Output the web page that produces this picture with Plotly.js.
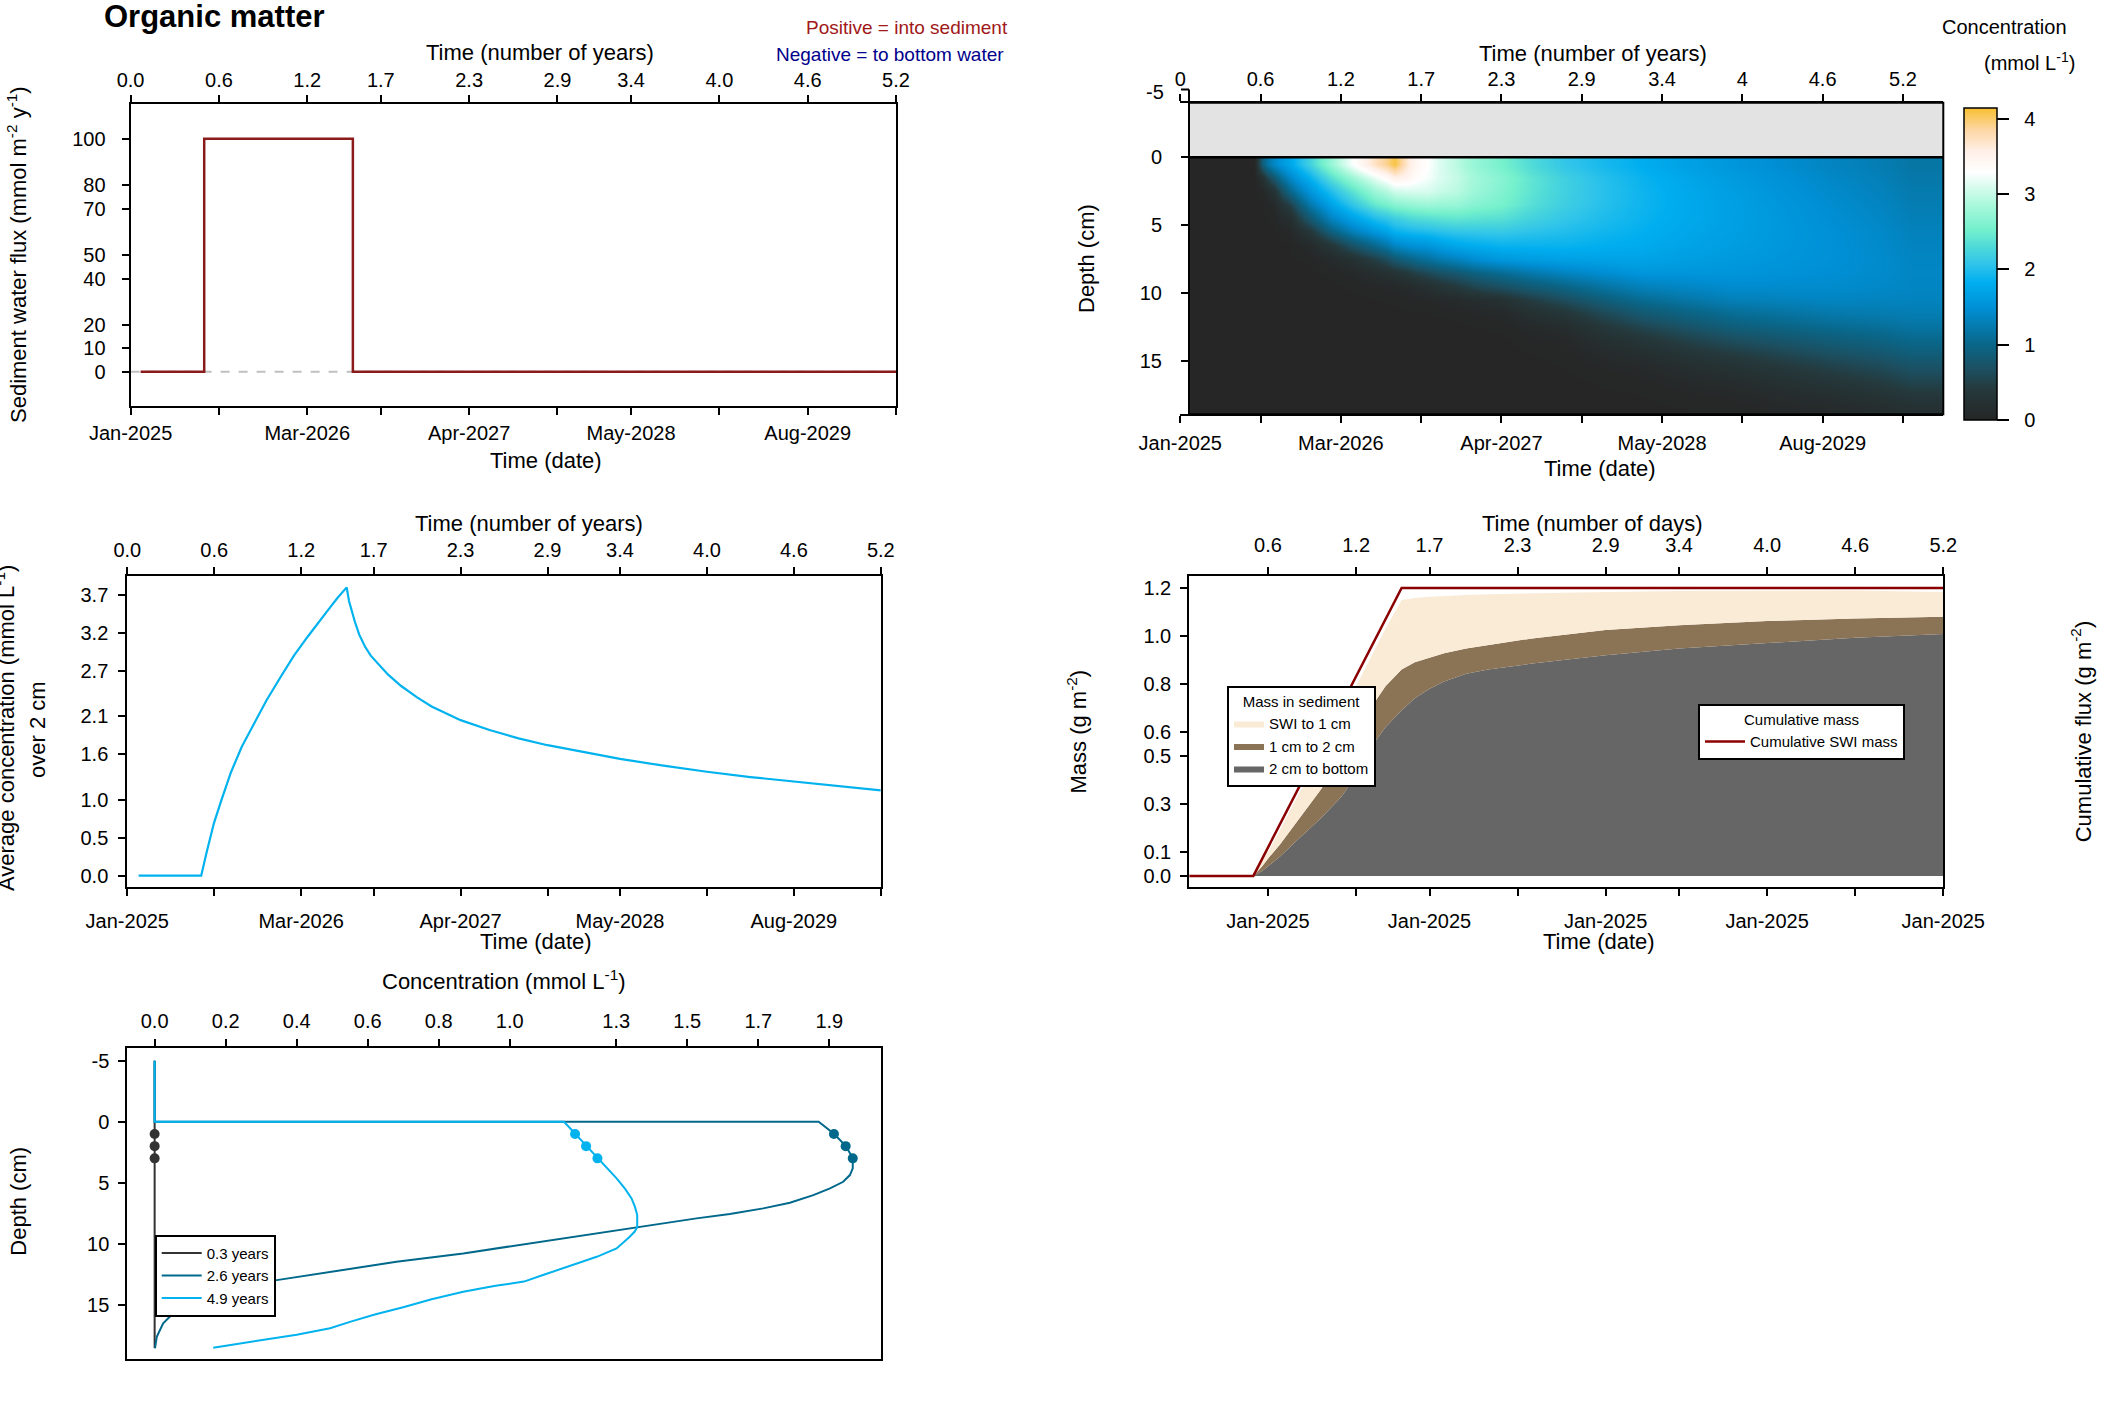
<!DOCTYPE html>
<html><head><meta charset="utf-8">
<script src="https://cdn.plot.ly/plotly-3.0.1.min.js"></script>
<style>html,body{margin:0;padding:0;background:#fff}#chart{width:2125px;height:1417px}</style>
</head><body><div id="chart"></div>
<script>
// ================= DATA =================
const yearTickVals = [0, 0.6, 1.2, 1.7, 2.3, 2.9, 3.4, 4.0, 4.6, 5.2];
const yearTickText = ['0.0','0.6','1.2','1.7','2.3','2.9','3.4','4.0','4.6','5.2'];
const dateTickVals = [0, 1.2, 2.3, 3.4, 4.6];
const dateTickText = ['Jan-2025','Mar-2026','Apr-2027','May-2028','Aug-2029'];
const dateMinorVals = [0.6, 1.7, 2.9, 4.0, 5.2];

// panel 1: sediment water flux (step)
const fluxTime  = [0.068, 0.50, 1.51, 5.2];
const fluxValue = [0, 100, 0, 0];
const zeroLineTime  = [0, 5.2];
const zeroLineValue = [0, 0];
const fluxTicks = [0, 10, 20, 40, 50, 70, 80, 100];

// panel 2: concentration heatmap (time edges in years, depth edges in cm)
const hmTickVals = [0, 0.575, 1.15, 1.725, 2.3, 2.875, 3.45, 4.025, 4.6, 5.175];
const hmTickText = ['0','0.6','1.2','1.7','2.3','2.9','3.4','4','4.6','5.2'];
const hmDateVals = [0, 1.15, 2.3, 3.45, 4.6];
const hmDateText = ['Jan-2025','Mar-2026','Apr-2027','May-2028','Aug-2029'];
const hmDateMinor = [0.575, 1.725, 2.875, 4.025, 5.175];
const hmTimeEdges  = [0.062, 0.5, 0.555, 0.62, 0.72, 0.85, 1.0, 1.16, 1.32, 1.48, 1.59, 1.69, 1.85, 2.1, 2.5, 3.0, 3.6, 4.3, 5.0, 5.464];
const hmDepthEdges = [0,1,2,3,4,5,6,7,8,9,10,11,12,13,14,15,16,17,18,19];
const hmConc = [
  [0,0,0.9,1.4,1.75,2.2,2.75,3.3,3.75,4.1,3.6,3.3,2.95,2.55,2.1,1.82,1.57,1.36,1.18],
  [0,0,0.25,0.8,1.4,1.85,2.35,2.8,3.2,3.55,3.45,3.25,3.0,2.65,2.2,1.88,1.62,1.4,1.21],
  [0,0,0.03,0.3,1.0,1.55,2.0,2.4,2.8,3.05,3.1,3.1,2.95,2.62,2.2,1.9,1.65,1.43,1.24],
  [0,0,0,0.08,0.5,1.2,1.7,2.1,2.45,2.65,2.72,2.78,2.75,2.55,2.18,1.9,1.67,1.46,1.27],
  [0,0,0,0.02,0.2,0.8,1.35,1.72,2.0,2.18,2.28,2.35,2.42,2.36,2.1,1.88,1.67,1.48,1.3],
  [0,0,0,0,0.05,0.35,0.9,1.3,1.58,1.85,1.92,1.98,2.08,2.12,2.0,1.84,1.66,1.5,1.33],
  [0,0,0,0,0.01,0.1,0.35,0.75,1.05,1.38,1.5,1.56,1.76,1.88,1.88,1.79,1.64,1.5,1.35],
  [0,0,0,0,0,0.02,0.1,0.25,0.5,0.8,0.95,1.12,1.33,1.58,1.68,1.71,1.6,1.5,1.37],
  [0,0,0,0,0,0,0.02,0.08,0.18,0.3,0.42,0.6,0.8,1.07,1.35,1.56,1.55,1.48,1.38],
  [0,0,0,0,0,0,0,0.02,0.05,0.08,0.12,0.22,0.42,0.7,0.98,1.32,1.45,1.44,1.37],
  [0,0,0,0,0,0,0,0,0.01,0.02,0.03,0.05,0.1,0.25,0.65,1.06,1.3,1.36,1.34],
  [0,0,0,0,0,0,0,0,0,0,0.01,0.01,0.02,0.08,0.35,0.8,1.08,1.22,1.27],
  [0,0,0,0,0,0,0,0,0,0,0,0,0,0.02,0.15,0.55,0.88,1.05,1.16],
  [0,0,0,0,0,0,0,0,0,0,0,0,0,0,0.06,0.33,0.65,0.86,1.02],
  [0,0,0,0,0,0,0,0,0,0,0,0,0,0,0.02,0.18,0.44,0.68,0.87],
  [0,0,0,0,0,0,0,0,0,0,0,0,0,0,0.01,0.08,0.27,0.5,0.71],
  [0,0,0,0,0,0,0,0,0,0,0,0,0,0,0,0.03,0.14,0.34,0.55],
  [0,0,0,0,0,0,0,0,0,0,0,0,0,0,0,0.01,0.06,0.2,0.38],
  [0,0,0,0,0,0,0,0,0,0,0,0,0,0,0,0,0.02,0.1,0.23]
];
const hmDepthTicks = [0, 5, 10, 15];
const cbTicks = [0, 1, 2, 3, 4];

// panel 3: average concentration over 2 cm
const avgTime = [0.078,0.51,0.55,0.598,0.65,0.713,0.79,0.875,0.96,1.06,1.15,1.246,1.31,1.385,1.45,1.514,1.53,1.55,1.57,1.60,1.64,1.68,1.73,1.80,1.89,2.00,2.10,2.30,2.50,2.70,2.90,3.20,3.40,3.70,4.00,4.30,4.60,4.90,5.20];
const avgConc = [0,0,0.33,0.694,1.0,1.353,1.70,2.01,2.31,2.626,2.90,3.153,3.32,3.50,3.66,3.80,3.62,3.48,3.35,3.18,3.02,2.90,2.79,2.65,2.50,2.35,2.23,2.05,1.92,1.81,1.72,1.61,1.54,1.45,1.37,1.30,1.24,1.18,1.125];
const avgTicks = [0, 0.5, 1.0, 1.6, 2.1, 2.7, 3.2, 3.7];

// panel 4: mass in sediment (cumulative boundaries) and cumulative SWI mass
const massTickVals = [0.6, 1.2, 1.7, 2.3, 2.9, 3.4, 4.0, 4.6, 5.2];
const massTickText = ['0.6','1.2','1.7','2.3','2.9','3.4','4.0','4.6','5.2'];
const massDateVals = [0.6, 1.7, 2.9, 4.0, 5.2];
const massDateText = ['Jan-2025','Jan-2025','Jan-2025','Jan-2025','Jan-2025'];
const massDateMinor = [1.2, 2.3, 3.4, 4.6];
const massTime    = [0.063,0.50,0.56,0.61,0.68,0.80,0.96,1.10,1.20,1.30,1.40,1.51,1.60,1.70,1.80,1.95,2.10,2.40,2.90,3.40,4.00,4.60,5.20];
const massDeepTop = [0,0,0.02,0.045,0.08,0.15,0.24,0.33,0.42,0.535,0.62,0.69,0.74,0.78,0.81,0.843,0.86,0.885,0.92,0.948,0.972,0.993,1.008];
const massMidTop  = [0,0,0.04,0.08,0.13,0.23,0.36,0.50,0.60,0.70,0.79,0.86,0.89,0.91,0.928,0.948,0.962,0.99,1.025,1.045,1.062,1.073,1.08];
const massSurfTop = [0,0,0.06,0.11,0.19,0.33,0.52,0.68,0.79,0.91,1.03,1.15,1.158,1.163,1.167,1.171,1.174,1.178,1.183,1.187,1.19,1.19,1.183];
const swiTime = [0.063, 0.50, 1.51, 5.20];
const swiMass = [0, 0, 1.2, 1.2];
const massYTicks = [0, 0.1, 0.3, 0.5, 0.6, 0.8, 1.0, 1.2];

// panel 5: concentration profiles
const prof03Depth = [-5, 0, 1, 2, 3, 18.55];
const prof03Conc  = [0, 0, 0, 0, 0, 0];
const prof26Depth = [-5,0,0,0.98,1.97,2.98,3.82,4.37,4.92,5.46,6.01,6.64,7.10,7.57,7.92,8.74,9.56,10.0,10.79,11.48,12.3,12.98,13.6,14.4,15.3,16.52,17.62,18.57];
const prof26Conc  = [0,0,1.870,1.913,1.946,1.966,1.966,1.958,1.939,1.902,1.855,1.789,1.714,1.620,1.526,1.338,1.151,1.057,0.869,0.681,0.494,0.344,0.22,0.13,0.066,0.024,0.006,0.001];
const prof49Depth = [-5,0,0,0.98,1.97,2.98,4.0,4.64,5.5,6.28,7.0,7.65,8.63,9.0,9.43,10.38,11.07,11.5,12.02,12.5,13.1,13.45,13.93,14.55,15.2,15.8,16.4,16.93,17.45,17.89,18.2,18.52];
const prof49Conc  = [0,0,1.153,1.184,1.215,1.247,1.281,1.301,1.325,1.343,1.353,1.359,1.359,1.352,1.338,1.301,1.245,1.20,1.151,1.10,1.04,0.96,0.869,0.78,0.70,0.62,0.55,0.494,0.40,0.306,0.23,0.165];
const dotDepth  = [1, 2, 3];
const dot03Conc = [0, 0, 0];
const dot26Conc = [1.913, 1.946, 1.966];
const dot49Conc = [1.184, 1.215, 1.247];
const concTicks = [0, 0.2, 0.4, 0.6, 0.8, 1.0, 1.3, 1.5, 1.7, 1.9];
const profDepthTicks = [-5, 0, 5, 10, 15];

// ================= STYLE / LAYOUT =================
const W = 2125, H = 1417;
const px = v => v / W;
const py = v => 1 - v / H;
const FONT = 'Liberation Sans, Arial, sans-serif';
const C03 = '#333333', C26 = '#00688B', C49 = '#00B2EE';

function ax(extra) {
  return Object.assign({
    showgrid: false, zeroline: false, showline: true, linecolor: '#000', linewidth: 2,
    ticks: 'outside', ticklen: 7, tickwidth: 2, tickcolor: '#000',
    tickfont: {family: FONT, size: 20, color: '#000'}, tickmode: 'array', fixedrange: true
  }, extra);
}
const minorTicks = vals => ({tickmode: 'array', tickvals: vals, ticks: 'outside', ticklen: 7,
  tickwidth: 2, tickcolor: '#000', showgrid: false});
const oneDec = a => a.map(v => v.toFixed(1));

const traces = [];
// ---- panel 1
traces.push({x: zeroLineTime, y: zeroLineValue, xaxis: 'x', yaxis: 'y', mode: 'lines',
  line: {color: '#C0C0C0', width: 2, dash: 'dash'}, showlegend: false, hoverinfo: 'skip'});
traces.push({x: fluxTime, y: fluxValue, xaxis: 'x', yaxis: 'y', mode: 'lines',
  line: {color: '#8B1A1A', width: 2.5, shape: 'hv'}, showlegend: false});
traces.push({x: [], y: [], xaxis: 'x2', yaxis: 'y', showlegend: false, hoverinfo: 'skip'});

// ---- panel 2 heatmap
traces.push({type: 'heatmap', x: hmTimeEdges, y: hmDepthEdges, z: hmConc, xaxis: 'x3', yaxis: 'y2',
  zsmooth: 'best', zmin: 0, zmax: 4.15,
  colorscale: [[0,'#262626'],[0.10,'#25393c'],[0.165,'#1c5062'],[0.24,'#0a6688'],[0.36,'#0090d6'],
    [0.44,'#00aeef'],[0.50,'#30c4ea'],[0.55,'#4cd8da'],[0.61,'#74f0cc'],[0.69,'#aaf8dc'],
    [0.795,'#ffffff'],[0.86,'#fff0e8'],[0.93,'#fdd6a4'],[1,'#f8c030']],
  colorbar: {x: px(1964.3), xanchor: 'left', y: py(263.85), yanchor: 'middle',
    len: 312.3, lenmode: 'pixels', thickness: 33, thicknessmode: 'pixels',
    xpad: 0, ypad: 0, outlinewidth: 1.5, outlinecolor: '#000',
    tickmode: 'array', tickvals: cbTicks, ticktext: cbTicks.map(v => '\u00A0\u00A0' + v),
    ticks: 'outside', ticklen: 12, tickwidth: 2, tickcolor: '#000',
    tickfont: {family: FONT, size: 20, color: '#000'}},
  showscale: true, hoverinfo: 'skip'});
traces.push({x: [], y: [], xaxis: 'x4', yaxis: 'y2', showlegend: false, hoverinfo: 'skip'});

// ---- panel 3
traces.push({x: avgTime, y: avgConc, xaxis: 'x5', yaxis: 'y3', mode: 'lines',
  line: {color: C49, width: 2.2}, showlegend: false});
traces.push({x: [], y: [], xaxis: 'x6', yaxis: 'y3', showlegend: false, hoverinfo: 'skip'});

// ---- panel 4
traces.push({x: massTime, y: massDeepTop, xaxis: 'x7', yaxis: 'y4', mode: 'lines', fill: 'tozeroy',
  fillcolor: '#666666', line: {width: 0, color: '#666666'}, name: '2 cm to bottom', legend: 'legend'});
traces.push({x: massTime, y: massMidTop, xaxis: 'x7', yaxis: 'y4', mode: 'lines', fill: 'tonexty',
  fillcolor: '#8B7355', line: {width: 0, color: '#8B7355'}, name: '1 cm to 2 cm', legend: 'legend'});
traces.push({x: massTime, y: massSurfTop, xaxis: 'x7', yaxis: 'y4', mode: 'lines', fill: 'tonexty',
  fillcolor: '#FAEBD7', line: {width: 0, color: '#FAEBD7'}, name: 'SWI to 1 cm', legend: 'legend'});
traces.push({x: swiTime, y: swiMass, xaxis: 'x7', yaxis: 'y4', mode: 'lines',
  line: {color: '#8B0000', width: 2.5}, name: 'Cumulative SWI mass', legend: 'legend2'});
traces.push({x: [], y: [], xaxis: 'x8', yaxis: 'y4', showlegend: false, hoverinfo: 'skip'});

// ---- panel 5
traces.push({x: prof03Conc, y: prof03Depth, xaxis: 'x9', yaxis: 'y5', mode: 'lines',
  line: {color: C03, width: 2}, name: '0.3 years', legend: 'legend3'});
traces.push({x: prof26Conc, y: prof26Depth, xaxis: 'x9', yaxis: 'y5', mode: 'lines',
  line: {color: C26, width: 2}, name: '2.6 years', legend: 'legend3'});
traces.push({x: prof49Conc, y: prof49Depth, xaxis: 'x9', yaxis: 'y5', mode: 'lines',
  line: {color: C49, width: 2}, name: '4.9 years', legend: 'legend3'});
traces.push({x: dot03Conc, y: dotDepth, xaxis: 'x9', yaxis: 'y5', mode: 'markers',
  marker: {color: C03, size: 10}, showlegend: false});
traces.push({x: dot26Conc, y: dotDepth, xaxis: 'x9', yaxis: 'y5', mode: 'markers',
  marker: {color: C26, size: 10}, showlegend: false});
traces.push({x: dot49Conc, y: dotDepth, xaxis: 'x9', yaxis: 'y5', mode: 'markers',
  marker: {color: C49, size: 10}, showlegend: false});

// ---- annotations
function ann(text, x, y, o) {
  return Object.assign({text: text, x: px(x), y: py(y), xref: 'paper', yref: 'paper',
    xanchor: 'center', yanchor: 'middle', showarrow: false,
    font: {family: FONT, size: 22, color: '#000'}}, o || {});
}
const annotations = [
  ann('Positive = into sediment', 1010, 27.7, {xanchor: 'right', font: {family: FONT, size: 19, color: '#A01818'}}),
  ann('Negative = to bottom water', 1006, 54, {xanchor: 'right', font: {family: FONT, size: 19, color: '#00008B'}}),
  ann('Time (number of years)', 540, 53),
  ann('Time (date)', 546, 460),
  ann('Sediment water flux (mmol m<sup>-2</sup> y<sup>-1</sup>)', 17, 255, {textangle: -90}),
  ann('Time (number of years)', 1593, 53.3),
  ann('Time (date)', 1599.7, 469),
  ann('Depth (cm)', 1086, 259, {textangle: -90}),
  ann('Concentration', 2004, 26.7, {font: {family: FONT, size: 20, color: '#000'}}),
  ann('(mmol L<sup>-1</sup>)', 2029, 61.7, {font: {family: FONT, size: 20, color: '#000'}}),
  ann('-5', 1166, 91.5, {xanchor: 'right', font: {family: FONT, size: 20, color: '#000'}}),
  ann('Time (number of years)', 529, 523.3),
  ann('Time (date)', 535.8, 941.7),
  ann('Average concentration (mmol L<sup>-1</sup>)', 5, 728, {textangle: -90}),
  ann('over 2 cm', 37, 730, {textangle: -90}),
  ann('Time (number of days)', 1591.6, 523.3),
  ann('Time (date)', 1598.5, 941.7),
  ann('Mass (g m<sup>-2</sup>)', 1077, 731.5, {textangle: -90}),
  ann('Cumulative flux (g m<sup>-2</sup>)', 2081.8, 731.5, {textangle: -90}),
  ann('Concentration (mmol L<sup>-1</sup>)', 504, 980),
  ann('Depth (cm)', 19, 1201.7, {textangle: -90})
];

// ---- shapes
const shapes = [
  {type: 'rect', xref: 'x3', yref: 'y2', x0: hmTimeEdges[0], x1: hmTimeEdges[hmTimeEdges.length - 1],
   y0: -6, y1: 0, fillcolor: '#E3E3E3', line: {width: 0}, layer: 'below'},
  {type: 'line', xref: 'x3', yref: 'y2', x0: hmTimeEdges[0], x1: hmTimeEdges[hmTimeEdges.length - 1],
   y0: 0, y1: 0, line: {color: '#000', width: 2.5}},
  {type: 'rect', xref: 'paper', yref: 'paper', x0: px(1189), x1: px(1943.3), y0: py(414.3), y1: py(102.7),
   line: {color: '#000', width: 2}, fillcolor: 'rgba(0,0,0,0)', layer: 'above'},
  {type: 'line', xref: 'paper', yref: 'paper', x0: px(1181), x1: px(1189), y0: py(89.5), y1: py(89.5),
   line: {color: '#000', width: 2}},
  {type: 'line', xref: 'paper', yref: 'paper', x0: px(1189), x1: px(1189), y0: py(89.5), y1: py(102.7),
   line: {color: '#000', width: 2}}
];

const legendBase = {xref: 'paper', yref: 'paper', xanchor: 'left', yanchor: 'top',
  bgcolor: '#fff', bordercolor: '#000', borderwidth: 2,
  font: {family: FONT, size: 15, color: '#000'}, itemwidth: 30, tracegroupgap: 0};

const layout = {
  width: W, height: H, margin: {l: 0, r: 0, t: 0, b: 0},
  paper_bgcolor: '#fff', plot_bgcolor: '#fff',
  font: {family: FONT, color: '#000'},
  title: {text: '<b>Organic matter</b>', font: {family: FONT, size: 31, color: '#000'},
    x: px(104), xref: 'container', xanchor: 'left', y: 1 - 16 / H, yref: 'container', yanchor: 'middle'},
  showlegend: true,
  // panel 1
  xaxis:  ax({domain: [px(130.6), px(896)], anchor: 'y', range: [0, 5.2], tickvals: dateTickVals, ticktext: dateTickText, ticklabelstandoff: 1, minor: minorTicks(dateMinorVals)}),
  xaxis2: ax({overlaying: 'x', side: 'top', anchor: 'y', range: [0, 5.2], tickvals: yearTickVals, ticktext: yearTickText, ticklabelstandoff: 0}),
  yaxis:  ax({domain: [py(405.7), py(104)], anchor: 'x', range: [-14.6, 114.9], tickvals: fluxTicks, ticktext: fluxTicks.map(String), mirror: true, ticklabelstandoff: 12}),
  // panel 2
  xaxis3: ax({domain: [px(1180.3), px(1943.3)], anchor: 'y2', range: [0, 5.464], tickvals: hmDateVals, ticktext: hmDateText, ticklabelstandoff: 3, minor: minorTicks(hmDateMinor)}),
  xaxis4: ax({overlaying: 'x3', side: 'top', anchor: 'y2', range: [0, 5.464], tickvals: hmTickVals, ticktext: hmTickText, ticklabelstandoff: 0}),
  yaxis2: ax({domain: [py(414.3), py(102.7)], anchor: 'free', position: px(1189), range: [18.95, -4.02], tickvals: hmDepthTicks, ticktext: hmDepthTicks.map(String), ticklabelstandoff: 15}),
  // panel 3
  xaxis5: ax({domain: [px(127.3), px(880.8)], anchor: 'y3', range: [0, 5.2], tickvals: dateTickVals, ticktext: dateTickText, ticklabelstandoff: 8, minor: minorTicks(dateMinorVals)}),
  xaxis6: ax({overlaying: 'x5', side: 'top', anchor: 'y3', range: [0, 5.2], tickvals: yearTickVals, ticktext: yearTickText, ticklabelstandoff: 2}),
  yaxis3: ax({domain: [py(886.7), py(576)], anchor: 'x5', range: [-0.145, 3.95], tickvals: avgTicks, ticktext: oneDec(avgTicks), mirror: true, ticklabelstandoff: 6}),
  // panel 4
  xaxis7: ax({domain: [px(1189.2), px(1943.3)], anchor: 'y4', range: [0.063, 5.2], tickvals: massDateVals, ticktext: massDateText, ticklabelstandoff: 8, minor: minorTicks(massDateMinor)}),
  xaxis8: ax({overlaying: 'x7', side: 'top', anchor: 'y4', range: [0.063, 5.2], tickvals: massTickVals, ticktext: massTickText, ticklabelstandoff: 7}),
  yaxis4: ax({domain: [py(886.7), py(576)], anchor: 'x7', range: [-0.045, 1.25], tickvals: massYTicks, ticktext: oneDec(massYTicks), mirror: true, ticklabelstandoff: 5}),
  // panel 5
  xaxis9: ax({domain: [px(127.3), px(880.8)], anchor: 'y5', side: 'top', range: [-0.077, 2.045], tickvals: concTicks, ticktext: oneDec(concTicks), mirror: true, ticklabelstandoff: 3}),
  yaxis5: ax({domain: [py(1359.3), py(1047.7)], anchor: 'x9', range: [19.47, -6.07], tickvals: profDepthTicks, ticktext: profDepthTicks.map(String), mirror: true, ticklabelstandoff: 5}),
  legend: Object.assign({}, legendBase, {x: px(1227), y: py(685.7), traceorder: 'reversed',
    title: {text: 'Mass in sediment', side: 'top center', font: {family: FONT, size: 15, color: '#000'}}}),
  legend2: Object.assign({}, legendBase, {x: px(1698), y: py(703.7), itemwidth: 40,
    title: {text: 'Cumulative mass', side: 'top center', font: {family: FONT, size: 15, color: '#000'}}}),
  legend3: Object.assign({}, legendBase, {x: px(154.7), y: py(1234.7), itemwidth: 40}),
  annotations: annotations,
  shapes: shapes
};

Plotly.newPlot('chart', traces, layout, {displayModeBar: false, staticPlot: true});
</script>
</body></html>
